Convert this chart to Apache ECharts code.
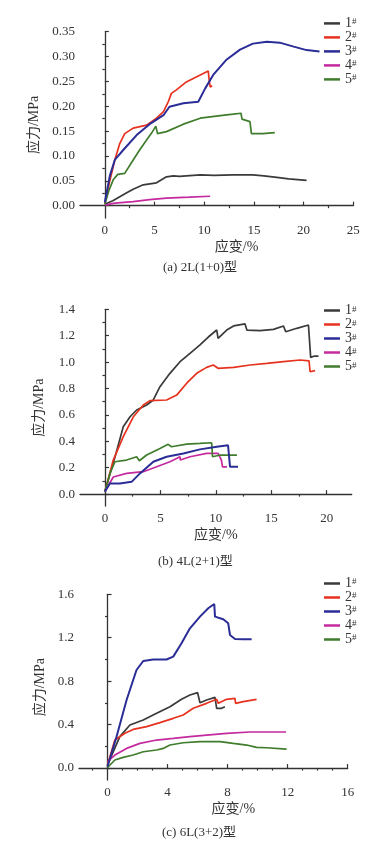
<!DOCTYPE html>
<html>
<head>
<meta charset="utf-8">
<script src="https://cdn.jsdelivr.net/npm/echarts@6/dist/echarts.min.js"></script>
<style>html,body{margin:0;padding:0;background:#fff;}#c{width:386px;height:846px;}</style>
</head>
<body>
<div id="c"></div>
<script>
// ---- data ----
const names = ['1#','2#','3#','4#','5#'];
const colors = ['#3a3a3a','#e6321f','#2b2d96','#c42a9e','#3f7d2c'];
const titles = ['(a) 2L(1+0)型','(b) 4L(2+1)型','(c) 6L(3+2)型'];

// panel (a) 2L(1+0)
const a1 = [[0,0.003],[0.8,0.01],[1.5,0.018],[2.2,0.026],[2.85,0.033],[3.86,0.042],[5.2,0.046],[5.7,0.052],[6.2,0.058],[6.9,0.06],[7.5,0.059],[9.6,0.062],[11,0.061],[12.9,0.062],[14.9,0.062],[16,0.06],[17.3,0.057],[18.5,0.054],[20.3,0.051]];
const a2 = [[0,0.005],[0.5,0.05],[1.0,0.092],[1.5,0.125],[2.0,0.145],[2.85,0.156],[4.2,0.162],[5.2,0.176],[5.9,0.189],[6.4,0.21],[6.7,0.226],[7.2,0.233],[8.2,0.249],[9.6,0.263],[10.4,0.271],[10.5,0.253],[10.6,0.239],[10.8,0.241]];
const a3 = [[0,0.007],[0.5,0.06],[1.0,0.092],[1.85,0.112],[3.2,0.142],[4.5,0.164],[5.9,0.182],[6.5,0.199],[7.9,0.206],[9.4,0.209],[10.1,0.236],[10.9,0.263],[12.2,0.293],[13.6,0.314],[14.9,0.326],[16.3,0.33],[17.6,0.328],[19.0,0.32],[20.3,0.313],[21.6,0.31]];
const a4 = [[0,0.001],[1,0.005],[2.85,0.008],[4.5,0.012],[6.2,0.015],[8.5,0.017],[10.6,0.019]];
const a5 = [[0,0.003],[0.4,0.03],[0.84,0.052],[1.3,0.063],[2.0,0.065],[2.85,0.092],[3.5,0.112],[4.2,0.132],[4.7,0.146],[5.13,0.16],[5.3,0.145],[5.4,0.142],[6.2,0.149],[7.9,0.164],[9.6,0.176],[11.2,0.18],[12.9,0.184],[13.7,0.186],[13.8,0.174],[14.6,0.169],[14.75,0.145],[15.9,0.145],[17.1,0.147]];

// panel (b) 4L(2+1)
const b1 = [[0,0.018],[0.45,0.15],[0.9,0.28],[1.65,0.51],[2.26,0.586],[2.86,0.637],[3.76,0.675],[4.36,0.713],[4.96,0.814],[5.86,0.915],[6.77,1.003],[7.67,1.066],[8.57,1.13],[9.32,1.19],[10.08,1.243],[10.2,1.18],[10.98,1.243],[11.6,1.274],[12.63,1.289],[12.8,1.243],[14,1.238],[15.2,1.248],[16.1,1.274],[16.3,1.23],[17.3,1.256],[18.35,1.281],[18.5,1.28],[18.55,1.036],[18.9,1.046],[19.25,1.046]];
const b2 = [[0,0.02],[0.75,0.258],[1.65,0.435],[2.56,0.586],[3.46,0.675],[4.06,0.708],[5.56,0.713],[6.47,0.75],[7.37,0.84],[8.27,0.915],[9.17,0.96],[9.77,0.978],[10.2,0.953],[11.6,0.96],[13.1,0.978],[14.6,0.99],[16.1,1.003],[17.6,1.016],[18.4,1.01],[18.5,0.927],[18.95,0.935]];
const b3 = [[0,0.02],[0.45,0.08],[1.35,0.08],[2.4,0.093],[3.16,0.157],[4.36,0.245],[5.56,0.283],[7.07,0.308],[8.57,0.339],[10.08,0.359],[11.1,0.37],[11.28,0.207],[12.0,0.207]];
const b4 = [[0,0.02],[0.75,0.13],[1.95,0.157],[3.46,0.17],[4.66,0.207],[5.86,0.245],[6.77,0.283],[6.8,0.258],[7.67,0.283],[9.17,0.308],[10.2,0.308],[10.5,0.258],[10.6,0.207],[11.0,0.207]];
const b5 = [[0,0.02],[0.45,0.157],[0.9,0.245],[1.95,0.258],[2.86,0.283],[3.1,0.253],[3.76,0.296],[4.96,0.346],[5.7,0.377],[6.0,0.359],[7.37,0.379],[8.57,0.384],[9.62,0.389],[9.7,0.283],[10.4,0.296],[11.9,0.296]];

// panel (c) 6L(3+2)
const c1 = [[0,0.03],[0.82,0.289],[1.49,0.396],[2.38,0.442],[3.27,0.504],[4.16,0.565],[4.93,0.633],[5.49,0.673],[6.0,0.694],[6.16,0.602],[6.6,0.627],[7.16,0.651],[7.27,0.55],[7.6,0.55],[7.82,0.565]];
const c2 = [[0,0.03],[0.49,0.258],[1.16,0.32],[1.71,0.356],[2.6,0.381],[3.49,0.418],[4.38,0.458],[5.04,0.488],[5.71,0.55],[6.6,0.596],[7.27,0.633],[7.38,0.596],[7.93,0.633],[8.49,0.642],[8.53,0.596],[9.04,0.611],[9.93,0.633]];
const c3 = [[0,0.015],[0.6,0.289],[1.27,0.627],[1.93,0.903],[2.38,0.986],[3.04,1.0],[3.93,1.0],[4.38,1.026],[4.93,1.149],[5.49,1.287],[6.16,1.394],[6.71,1.471],[7.11,1.511],[7.16,1.394],[7.71,1.37],[8.04,1.333],[8.16,1.225],[8.49,1.189],[9.04,1.185],[9.6,1.185]];
const c4 = [[0,0.06],[0.49,0.12],[1.27,0.181],[2.16,0.227],[3.27,0.258],[4.38,0.273],[5.49,0.289],[6.6,0.304],[7.93,0.319],[9.49,0.332],[10.6,0.332],[11.9,0.332]];
const c5 = [[0,0.005],[0.49,0.074],[1.04,0.098],[1.71,0.12],[2.38,0.15],[3.27,0.166],[3.71,0.181],[4.16,0.212],[5.04,0.233],[6.16,0.243],[7.49,0.243],[8.38,0.227],[9.27,0.212],[9.93,0.19],[10.6,0.187],[11.93,0.175]];

// tick labels
const aXTicks = [0,5,10,15,20,25];
const aXMinor = [2.5,7.5,12.5,17.5,22.5];
const aYTicks = [0,0.05,0.10,0.15,0.20,0.25,0.30,0.35];
const aYMinor = [0.025,0.075,0.125,0.175,0.225,0.275,0.325];
const bXTicks = [0,5,10,15,20];
const bXMinor = [2.5,7.5,12.5,17.5];
const bYTicks = [0,0.2,0.4,0.6,0.8,1.0,1.2,1.4];
const bYMinor = [0.1,0.3,0.5,0.7,0.9,1.1,1.3];
const cXTicks = [0,4,8,12,16];
const cXMinor = [-1,1,2,3,5,6,7,9,10,11,13,14,15];
const cYTicks = [0,0.4,0.8,1.2,1.6];
const cYMinor = [0.2,0.6,1.0,1.4];

// ---- layout ----
const serif = '"Liberation Serif","Noto Sans CJK SC",serif';
const panels = [
  {data:[a1,a2,a3,a4,a5], grid:{left:80,top:31.7,width:273.3,height:186.4}, x:[-2.5,25], y:[-0.025,0.35],
   xt:aXTicks, xm:aXMinor, yt:aYTicks, ym:aYMinor, yd:2, xNamePad:[0,0,0,40], yGap:35, legTop:16.4, legH:12.4, titleLeft:163, titleTop:261},
  {data:[b1,b2,b3,b4,b5], grid:{left:80,top:309.3,width:271.7,height:196.7}, x:[-2.25,22.25], y:[-0.09,1.4],
   xt:bXTicks, xm:bXMinor, yt:bYTicks, ym:bYMinor, yd:1, xNamePad:[0,0,0,0], yGap:34, legTop:303.5, legH:11.7, titleLeft:158, titleTop:555},
  {data:[c1,c2,c3,c4,c5], grid:{left:79,top:594.3,width:268.7,height:185.7}, x:[-1.9,16], y:[-0.11,1.6],
   xt:cXTicks, xm:cXMinor, yt:cYTicks, ym:cYMinor, yd:1, xNamePad:[0,0,0,40], yGap:29, legTop:576.5, legH:12.5, titleLeft:162, titleTop:826}
];

const grid=[], xAxis=[], yAxis=[], series=[], legend=[], title=[];
const axLine = {show:true, lineStyle:{color:'#333', width:1.3}};
panels.forEach((p,i)=>{
  grid.push(Object.assign({}, p.grid));
  xAxis.push({type:'value', gridIndex:i, min:p.x[0], max:p.x[1], axisLine:axLine, splitLine:{show:false},
    axisTick:{show:true, inside:true, length:4, customValues:p.xt, lineStyle:{color:'#333',width:1.2}},
    axisLabel:{customValues:p.xt, margin:6, fontFamily:serif, fontSize:13, color:'#333', formatter:v=>String(v)},
    name:'应变/%', nameLocation:'middle', nameGap:22, nameTextStyle:{fontFamily:serif, fontSize:14, color:'#333', padding:p.xNamePad}});
  xAxis.push({type:'value', gridIndex:i, min:p.x[0], max:p.x[1], axisLine:{show:false}, splitLine:{show:false},
    axisTick:{show:true, inside:true, length:2.5, customValues:p.xm, lineStyle:{color:'#333',width:1.2}},
    axisLabel:{show:false}});
  yAxis.push({type:'value', gridIndex:i, min:p.y[0], max:p.y[1], axisLine:axLine, splitLine:{show:false},
    axisTick:{show:true, inside:true, length:4, customValues:p.yt, lineStyle:{color:'#333',width:1.2}},
    axisLabel:{customValues:p.yt, margin:5, fontFamily:serif, fontSize:13, color:'#333', formatter:v=>v.toFixed(p.yd)},
    name:'应力/MPa', nameLocation:'middle', nameGap:p.yGap, nameTextStyle:{fontFamily:serif, fontSize:14, color:'#333'}});
  yAxis.push({type:'value', gridIndex:i, min:p.y[0], max:p.y[1], axisLine:{show:false}, splitLine:{show:false},
    axisTick:{show:true, inside:true, length:2.5, customValues:p.ym, lineStyle:{color:'#333',width:1.2}},
    axisLabel:{show:false}});
  p.data.forEach((d,k)=>{
    series.push({type:'line', name:names[k], xAxisIndex:2*i, yAxisIndex:2*i, data:d, showSymbol:false, symbol:'none',
      color:colors[k], lineStyle:{width:k===2?2:1.7, color:colors[k]}, animation:false, z:k===2?3:2});
  });
  legend.push({orient:'vertical', left:324, top:p.legTop, padding:0, itemWidth:16, itemHeight:2.5, itemGap:0, icon:'rect',
    data:names, selectedMode:false,
    formatter:n=>'{n|'+n.replace('#','')+'}{s|#}',
    textStyle:{color:'#333', fontSize:14, fontFamily:serif, rich:{n:{fontFamily:serif, fontSize:14, lineHeight:p.legH, color:'#333'},
      s:{fontFamily:serif, fontSize:9, lineHeight:p.legH, verticalAlign:'top', color:'#333'}}}});
  title.push({text:titles[i], left:p.titleLeft, top:p.titleTop, padding:0, textStyle:{fontFamily:serif, fontSize:13, fontWeight:'normal', color:'#333'}});
});

const chart = echarts.init(document.getElementById('c'), null, {renderer:'canvas'});
chart.setOption({animation:false, backgroundColor:'#fff', title, grid, xAxis, yAxis, legend, series});
</script>
</body>
</html>
